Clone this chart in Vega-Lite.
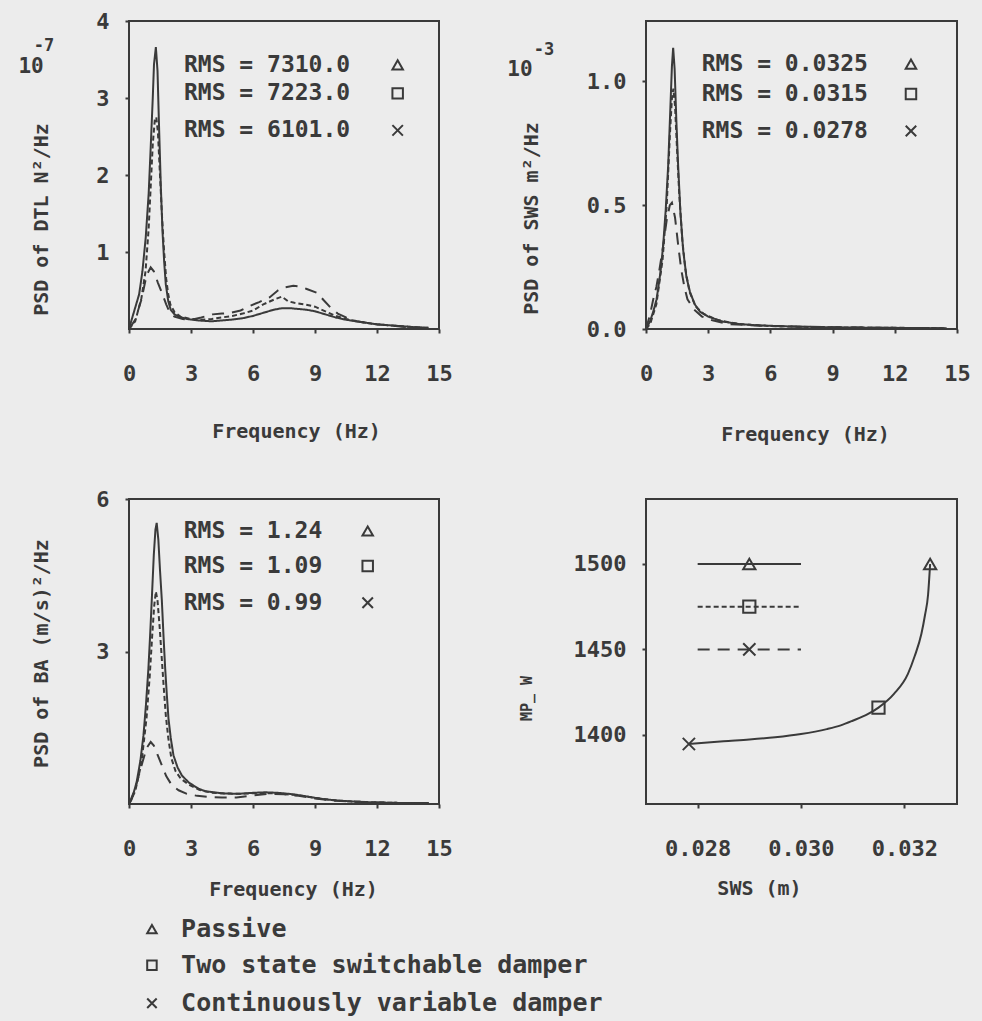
{
"$schema":"https://vega.github.io/schema/vega-lite/v6.json",
"background":"#ececec",
"padding":{"left":17,"top":9,"right":13,"bottom":7},
"bounds":"flush",
"columns":2,
"spacing":{"row":170,"column":207},
"datasets":{
"dtl":[
{"s":"P","f":0,"v":0},{"s":"P","f":0.16,"v":0.15},{"s":"P","f":0.49,"v":0.45},{"s":"P","f":0.65,"v":0.75},{"s":"P","f":0.81,"v":1.19},{"s":"P","f":0.95,"v":1.75},{"s":"P","f":1.05,"v":2.36},{"s":"P","f":1.15,"v":3.0},{"s":"P","f":1.21,"v":3.44},{"s":"P","f":1.3,"v":3.66},{"s":"P","f":1.38,"v":3.35},{"s":"P","f":1.46,"v":2.57},{"s":"P","f":1.54,"v":1.85},{"s":"P","f":1.62,"v":1.27},{"s":"P","f":1.7,"v":0.88},{"s":"P","f":1.78,"v":0.58},{"s":"P","f":1.9,"v":0.36},{"s":"P","f":2.02,"v":0.25},{"s":"P","f":2.2,"v":0.19},{"s":"P","f":2.43,"v":0.16},{"s":"P","f":2.8,"v":0.13},{"s":"P","f":3.4,"v":0.11},{"s":"P","f":4.0,"v":0.1},{"s":"P","f":4.9,"v":0.12},{"s":"P","f":5.5,"v":0.14},{"s":"P","f":6.0,"v":0.17},{"s":"P","f":6.5,"v":0.21},{"s":"P","f":7.0,"v":0.25},{"s":"P","f":7.4,"v":0.27},{"s":"P","f":7.8,"v":0.27},{"s":"P","f":8.2,"v":0.26},{"s":"P","f":8.6,"v":0.25},{"s":"P","f":9.0,"v":0.23},{"s":"P","f":9.5,"v":0.19},{"s":"P","f":10.0,"v":0.15},{"s":"P","f":10.5,"v":0.12},{"s":"P","f":11.0,"v":0.1},{"s":"P","f":11.5,"v":0.08},{"s":"P","f":12.0,"v":0.06},{"s":"P","f":12.5,"v":0.05},{"s":"P","f":13.0,"v":0.04},{"s":"P","f":13.5,"v":0.03},{"s":"P","f":14.0,"v":0.02},{"s":"P","f":14.5,"v":0.015},
{"s":"T","f":0,"v":0},{"s":"T","f":0.3,"v":0.1},{"s":"T","f":0.6,"v":0.4},{"s":"T","f":0.8,"v":0.75},{"s":"T","f":0.95,"v":1.3},{"s":"T","f":1.05,"v":1.85},{"s":"T","f":1.15,"v":2.4},{"s":"T","f":1.25,"v":2.72},{"s":"T","f":1.32,"v":2.75},{"s":"T","f":1.4,"v":2.55},{"s":"T","f":1.5,"v":2.0},{"s":"T","f":1.6,"v":1.45},{"s":"T","f":1.7,"v":1.0},{"s":"T","f":1.8,"v":0.65},{"s":"T","f":1.9,"v":0.45},{"s":"T","f":2.0,"v":0.32},{"s":"T","f":2.2,"v":0.22},{"s":"T","f":2.5,"v":0.16},{"s":"T","f":3.0,"v":0.13},{"s":"T","f":3.5,"v":0.12},{"s":"T","f":4.0,"v":0.13},{"s":"T","f":4.5,"v":0.15},{"s":"T","f":5.0,"v":0.17},{"s":"T","f":5.5,"v":0.2},{"s":"T","f":6.0,"v":0.24},{"s":"T","f":6.5,"v":0.32},{"s":"T","f":7.0,"v":0.38},{"s":"T","f":7.4,"v":0.42},{"s":"T","f":7.7,"v":0.36},{"s":"T","f":8.0,"v":0.34},{"s":"T","f":8.5,"v":0.32},{"s":"T","f":9.0,"v":0.29},{"s":"T","f":9.5,"v":0.23},{"s":"T","f":10.0,"v":0.17},{"s":"T","f":10.5,"v":0.13},{"s":"T","f":11.0,"v":0.1},{"s":"T","f":11.5,"v":0.08},{"s":"T","f":12.0,"v":0.06},{"s":"T","f":12.5,"v":0.05},{"s":"T","f":13.0,"v":0.04},{"s":"T","f":13.5,"v":0.03},{"s":"T","f":14.0,"v":0.02},{"s":"T","f":14.5,"v":0.015},
{"s":"C","f":0,"v":0},{"s":"C","f":0.3,"v":0.12},{"s":"C","f":0.6,"v":0.38},{"s":"C","f":0.85,"v":0.7},{"s":"C","f":1.05,"v":0.8},{"s":"C","f":1.2,"v":0.75},{"s":"C","f":1.4,"v":0.6},{"s":"C","f":1.62,"v":0.45},{"s":"C","f":1.8,"v":0.32},{"s":"C","f":1.95,"v":0.23},{"s":"C","f":2.2,"v":0.16},{"s":"C","f":2.6,"v":0.13},{"s":"C","f":3.0,"v":0.12},{"s":"C","f":3.5,"v":0.15},{"s":"C","f":4.05,"v":0.19},{"s":"C","f":4.5,"v":0.2},{"s":"C","f":4.9,"v":0.21},{"s":"C","f":5.4,"v":0.24},{"s":"C","f":5.85,"v":0.3},{"s":"C","f":6.3,"v":0.35},{"s":"C","f":6.8,"v":0.41},{"s":"C","f":7.2,"v":0.5},{"s":"C","f":7.5,"v":0.54},{"s":"C","f":7.95,"v":0.56},{"s":"C","f":8.3,"v":0.55},{"s":"C","f":8.6,"v":0.52},{"s":"C","f":9.1,"v":0.47},{"s":"C","f":9.4,"v":0.38},{"s":"C","f":9.75,"v":0.28},{"s":"C","f":10.1,"v":0.2},{"s":"C","f":10.5,"v":0.15},{"s":"C","f":11.0,"v":0.1},{"s":"C","f":11.5,"v":0.08},{"s":"C","f":12.0,"v":0.06},{"s":"C","f":12.5,"v":0.05},{"s":"C","f":13.0,"v":0.035},{"s":"C","f":13.5,"v":0.025},{"s":"C","f":14.0,"v":0.02},{"s":"C","f":14.5,"v":0.01}
],
"sws":[
{"s":"P","f":0,"v":0},{"s":"P","f":0.19,"v":0.03},{"s":"P","f":0.35,"v":0.07},{"s":"P","f":0.51,"v":0.12},{"s":"P","f":0.7,"v":0.23},{"s":"P","f":0.83,"v":0.34},{"s":"P","f":0.95,"v":0.48},{"s":"P","f":1.07,"v":0.66},{"s":"P","f":1.17,"v":0.88},{"s":"P","f":1.25,"v":1.06},{"s":"P","f":1.31,"v":1.135},{"s":"P","f":1.38,"v":1.05},{"s":"P","f":1.46,"v":0.85},{"s":"P","f":1.55,"v":0.66},{"s":"P","f":1.66,"v":0.47},{"s":"P","f":1.79,"v":0.32},{"s":"P","f":1.95,"v":0.21},{"s":"P","f":2.12,"v":0.15},{"s":"P","f":2.35,"v":0.1},{"s":"P","f":2.6,"v":0.07},{"s":"P","f":3.0,"v":0.05},{"s":"P","f":3.7,"v":0.03},{"s":"P","f":4.5,"v":0.02},{"s":"P","f":5.3,"v":0.015},{"s":"P","f":7.0,"v":0.01},{"s":"P","f":9.0,"v":0.007},{"s":"P","f":11.0,"v":0.005},{"s":"P","f":13.0,"v":0.004},{"s":"P","f":14.5,"v":0.003},
{"s":"T","f":0,"v":0},{"s":"T","f":0.2,"v":0.02},{"s":"T","f":0.5,"v":0.1},{"s":"T","f":0.8,"v":0.28},{"s":"T","f":1.0,"v":0.5},{"s":"T","f":1.15,"v":0.78},{"s":"T","f":1.25,"v":0.93},{"s":"T","f":1.32,"v":0.97},{"s":"T","f":1.4,"v":0.9},{"s":"T","f":1.5,"v":0.72},{"s":"T","f":1.6,"v":0.55},{"s":"T","f":1.75,"v":0.36},{"s":"T","f":1.9,"v":0.24},{"s":"T","f":2.1,"v":0.15},{"s":"T","f":2.4,"v":0.09},{"s":"T","f":2.8,"v":0.06},{"s":"T","f":3.5,"v":0.035},{"s":"T","f":4.5,"v":0.02},{"s":"T","f":6.0,"v":0.012},{"s":"T","f":8.0,"v":0.008},{"s":"T","f":10.0,"v":0.006},{"s":"T","f":12.0,"v":0.005},{"s":"T","f":14.5,"v":0.003},
{"s":"C","f":0,"v":0},{"s":"C","f":0.2,"v":0.06},{"s":"C","f":0.35,"v":0.12},{"s":"C","f":0.5,"v":0.17},{"s":"C","f":0.65,"v":0.24},{"s":"C","f":0.8,"v":0.32},{"s":"C","f":1.0,"v":0.44},{"s":"C","f":1.15,"v":0.5},{"s":"C","f":1.25,"v":0.51},{"s":"C","f":1.4,"v":0.45},{"s":"C","f":1.55,"v":0.34},{"s":"C","f":1.7,"v":0.24},{"s":"C","f":1.85,"v":0.17},{"s":"C","f":2.0,"v":0.12},{"s":"C","f":2.3,"v":0.08},{"s":"C","f":2.7,"v":0.05},{"s":"C","f":3.2,"v":0.035},{"s":"C","f":4.0,"v":0.02},{"s":"C","f":5.0,"v":0.015},{"s":"C","f":7.0,"v":0.01},{"s":"C","f":9.0,"v":0.007},{"s":"C","f":11.0,"v":0.005},{"s":"C","f":13.0,"v":0.004},{"s":"C","f":14.5,"v":0.003}
],
"ba":[
{"s":"P","f":0,"v":0},{"s":"P","f":0.14,"v":0.1},{"s":"P","f":0.37,"v":0.43},{"s":"P","f":0.55,"v":0.85},{"s":"P","f":0.7,"v":1.35},{"s":"P","f":0.82,"v":1.95},{"s":"P","f":0.94,"v":2.67},{"s":"P","f":1.02,"v":3.3},{"s":"P","f":1.1,"v":4.0},{"s":"P","f":1.2,"v":4.9},{"s":"P","f":1.28,"v":5.4},{"s":"P","f":1.34,"v":5.53},{"s":"P","f":1.42,"v":5.2},{"s":"P","f":1.5,"v":4.6},{"s":"P","f":1.59,"v":4.0},{"s":"P","f":1.67,"v":3.3},{"s":"P","f":1.75,"v":2.67},{"s":"P","f":1.83,"v":2.15},{"s":"P","f":1.91,"v":1.68},{"s":"P","f":2.02,"v":1.3},{"s":"P","f":2.15,"v":0.96},{"s":"P","f":2.35,"v":0.72},{"s":"P","f":2.56,"v":0.56},{"s":"P","f":2.9,"v":0.42},{"s":"P","f":3.37,"v":0.3},{"s":"P","f":3.7,"v":0.25},{"s":"P","f":4.5,"v":0.21},{"s":"P","f":5.3,"v":0.2},{"s":"P","f":6.0,"v":0.22},{"s":"P","f":6.6,"v":0.23},{"s":"P","f":7.2,"v":0.22},{"s":"P","f":7.74,"v":0.2},{"s":"P","f":8.3,"v":0.17},{"s":"P","f":8.87,"v":0.13},{"s":"P","f":9.5,"v":0.09},{"s":"P","f":10.2,"v":0.066},{"s":"P","f":11.0,"v":0.045},{"s":"P","f":12.0,"v":0.03},{"s":"P","f":13.0,"v":0.022},{"s":"P","f":14.0,"v":0.02},{"s":"P","f":14.5,"v":0.02},
{"s":"T","f":0,"v":0},{"s":"T","f":0.3,"v":0.25},{"s":"T","f":0.6,"v":0.8},{"s":"T","f":0.85,"v":1.7},{"s":"T","f":1.0,"v":2.5},{"s":"T","f":1.12,"v":3.3},{"s":"T","f":1.22,"v":3.9},{"s":"T","f":1.3,"v":4.18},{"s":"T","f":1.38,"v":4.0},{"s":"T","f":1.48,"v":3.5},{"s":"T","f":1.58,"v":2.9},{"s":"T","f":1.68,"v":2.3},{"s":"T","f":1.78,"v":1.75},{"s":"T","f":1.9,"v":1.3},{"s":"T","f":2.05,"v":0.9},{"s":"T","f":2.25,"v":0.65},{"s":"T","f":2.5,"v":0.5},{"s":"T","f":2.9,"v":0.38},{"s":"T","f":3.4,"v":0.28},{"s":"T","f":4.0,"v":0.22},{"s":"T","f":5.0,"v":0.2},{"s":"T","f":6.0,"v":0.21},{"s":"T","f":7.0,"v":0.21},{"s":"T","f":8.0,"v":0.18},{"s":"T","f":9.0,"v":0.12},{"s":"T","f":10.0,"v":0.07},{"s":"T","f":11.0,"v":0.045},{"s":"T","f":12.0,"v":0.03},{"s":"T","f":13.0,"v":0.022},{"s":"T","f":14.5,"v":0.02},
{"s":"C","f":0,"v":0},{"s":"C","f":0.3,"v":0.3},{"s":"C","f":0.6,"v":0.75},{"s":"C","f":0.85,"v":1.1},{"s":"C","f":1.05,"v":1.22},{"s":"C","f":1.2,"v":1.15},{"s":"C","f":1.4,"v":0.95},{"s":"C","f":1.59,"v":0.76},{"s":"C","f":1.8,"v":0.55},{"s":"C","f":2.07,"v":0.37},{"s":"C","f":2.4,"v":0.27},{"s":"C","f":2.8,"v":0.2},{"s":"C","f":3.3,"v":0.16},{"s":"C","f":3.8,"v":0.14},{"s":"C","f":4.5,"v":0.13},{"s":"C","f":5.2,"v":0.13},{"s":"C","f":6.0,"v":0.17},{"s":"C","f":6.8,"v":0.2},{"s":"C","f":7.5,"v":0.19},{"s":"C","f":8.2,"v":0.16},{"s":"C","f":9.0,"v":0.11},{"s":"C","f":10.0,"v":0.065},{"s":"C","f":11.0,"v":0.045},{"s":"C","f":12.0,"v":0.03},{"s":"C","f":13.0,"v":0.022},{"s":"C","f":14.5,"v":0.02}
],
"rms1":[{"s":"P","label":"RMS = 7310.0","y":3.43},{"s":"T","label":"RMS = 7223.0","y":3.06},{"s":"C","label":"RMS = 6101.0","y":2.58}],
"rms2":[{"s":"P","label":"RMS = 0.0325","y":1.069},{"s":"T","label":"RMS = 0.0315","y":0.948},{"s":"C","label":"RMS = 0.0278","y":0.799}],
"rms3":[{"s":"P","label":"RMS = 1.24","y":5.37},{"s":"T","label":"RMS = 1.09","y":4.68},{"s":"C","label":"RMS = 0.99","y":3.96}],
"key":[{"s":"P","label":"Passive","y":-2.46},{"s":"T","label":"Two state switchable damper","y":-3.17},{"s":"C","label":"Continuously variable damper","y":-3.92}],
"mpc":[{"x":0.02783,"y":1394.7},{"x":0.0285,"y":1396.3},{"x":0.029,"y":1397.3},{"x":0.0295,"y":1398.6},{"x":0.03,"y":1400.5},{"x":0.0305,"y":1403.4},{"x":0.03077,"y":1405.6},{"x":0.031,"y":1408.3},{"x":0.0313,"y":1412.3},{"x":0.0315,"y":1416},{"x":0.0318,"y":1424},{"x":0.03207,"y":1435.7},{"x":0.0322,"y":1446},{"x":0.03233,"y":1459},{"x":0.0324,"y":1470},{"x":0.03246,"y":1482},{"x":0.0325,"y":1500}],
"mpp":[{"s":"C","x":0.02783,"y":1394.7},{"s":"T","x":0.0315,"y":1416},{"s":"P","x":0.0325,"y":1500}],
"mpl":[{"s":"P","x":0.028,"y":1500},{"s":"P","x":0.03,"y":1500},{"s":"T","x":0.028,"y":1475},{"s":"T","x":0.03,"y":1475},{"s":"C","x":0.028,"y":1450},{"s":"C","x":0.03,"y":1450}],
"mpk":[{"s":"P","x":0.029,"y":1500},{"s":"T","x":0.029,"y":1475},{"s":"C","x":0.029,"y":1450}],
"one":[{"k":1}]
},
"concat":[
{"width":310,"height":308,"layer":[
{"data":{"name":"dtl"},"mark":{"type":"line","strokeWidth":2,"color":"#3a3a3a"},
"encoding":{
"x":{"field":"f","type":"quantitative","scale":{"domain":[0,15],"nice":false},"axis":{"values":[0,3,6,9,12,15],"title":"Frequency (Hz)","titleX":167,"titleY":102}},
"y":{"field":"v","type":"quantitative","scale":{"domain":[0,4],"nice":false},"axis":{"values":[1,2,3,4],"format":"d","title":"PSD of DTL N²/Hz","titleX":-88,"titleY":198}},
"strokeDash":{"field":"s","type":"nominal","scale":{"domain":["P","T","C"],"range":[[1,0],[5,3],[12,8]]},"legend":null}}},
{"data":{"name":"rms1"},"mark":{"type":"text","align":"left","baseline":"middle","fontSize":23,"fontWeight":"bold","font":"DejaVu Sans Mono","color":"#3a3a3a"},
"encoding":{"x":{"datum":2.66,"type":"quantitative"},"y":{"field":"y","type":"quantitative"},"text":{"field":"label"}}},
{"data":{"name":"rms1"},"mark":{"type":"point","filled":false,"opacity":1,"strokeWidth":2,"size":110,"color":"#3a3a3a"},
"encoding":{"x":{"datum":13.0,"type":"quantitative"},"y":{"field":"y","type":"quantitative"},"shape":{"field":"s","type":"nominal","scale":{"domain":["P","T","C"],"range":["triangle-up","square","M-1,-1L1,1M-1,1L1,-1"]},"legend":null}}},
{"data":{"name":"one"},"mark":{"type":"text","text":"10","fontSize":21,"fontWeight":"bold","font":"DejaVu Sans Mono","color":"#3a3a3a","align":"center","baseline":"middle"},
"encoding":{"x":{"datum":-4.74,"type":"quantitative"},"y":{"datum":3.4,"type":"quantitative"}}},
{"data":{"name":"one"},"mark":{"type":"text","text":"-7","fontSize":17,"fontWeight":"bold","font":"DejaVu Sans Mono","color":"#3a3a3a","align":"center","baseline":"middle"},
"encoding":{"x":{"datum":-4.11,"type":"quantitative"},"y":{"datum":3.68,"type":"quantitative"}}}
]},
{"width":311,"height":308,"layer":[
{"data":{"name":"sws"},"mark":{"type":"line","strokeWidth":2,"color":"#3a3a3a"},
"encoding":{
"x":{"field":"f","type":"quantitative","scale":{"domain":[0,15],"nice":false},"axis":{"values":[0,3,6,9,12,15],"title":"Frequency (Hz)","titleX":159,"titleY":105}},
"y":{"field":"v","type":"quantitative","scale":{"domain":[0,1.243],"nice":false,"zero":false},"axis":{"values":[0,0.5,1.0],"format":".1f","title":"PSD of SWS m²/Hz","titleX":-115,"titleY":197}},
"strokeDash":{"field":"s","type":"nominal","scale":{"domain":["P","T","C"],"range":[[1,0],[5,3],[12,8]]},"legend":null}}},
{"data":{"name":"rms2"},"mark":{"type":"text","align":"left","baseline":"middle","fontSize":23,"fontWeight":"bold","font":"DejaVu Sans Mono","color":"#3a3a3a"},
"encoding":{"x":{"datum":2.69,"type":"quantitative"},"y":{"field":"y","type":"quantitative"},"text":{"field":"label"}}},
{"data":{"name":"rms2"},"mark":{"type":"point","filled":false,"opacity":1,"strokeWidth":2,"size":110,"color":"#3a3a3a"},
"encoding":{"x":{"datum":12.78,"type":"quantitative"},"y":{"field":"y","type":"quantitative"},"shape":{"field":"s","type":"nominal","scale":{"domain":["P","T","C"],"range":["triangle-up","square","M-1,-1L1,1M-1,1L1,-1"]},"legend":null}}},
{"data":{"name":"one"},"mark":{"type":"text","text":"10","fontSize":21,"fontWeight":"bold","font":"DejaVu Sans Mono","color":"#3a3a3a","align":"center","baseline":"middle"},
"encoding":{"x":{"datum":-6.08,"type":"quantitative"},"y":{"datum":1.045,"type":"quantitative"}}},
{"data":{"name":"one"},"mark":{"type":"text","text":"-3","fontSize":17,"fontWeight":"bold","font":"DejaVu Sans Mono","color":"#3a3a3a","align":"center","baseline":"middle"},
"encoding":{"x":{"datum":-4.92,"type":"quantitative"},"y":{"datum":1.126,"type":"quantitative"}}}
]},
{"width":310,"height":305,"layer":[
{"data":{"name":"ba"},"mark":{"type":"line","strokeWidth":2,"color":"#3a3a3a"},
"encoding":{
"x":{"field":"f","type":"quantitative","scale":{"domain":[0,15],"nice":false},"axis":{"values":[0,3,6,9,12,15],"title":"Frequency (Hz)","titleX":164,"titleY":85}},
"y":{"field":"v","type":"quantitative","scale":{"domain":[0,6],"nice":false},"axis":{"values":[3,6],"format":"d","title":"PSD of BA (m/s)²/Hz","titleX":-88,"titleY":154}},
"strokeDash":{"field":"s","type":"nominal","scale":{"domain":["P","T","C"],"range":[[1,0],[5,3],[12,8]]},"legend":null}}},
{"data":{"name":"rms3"},"mark":{"type":"text","align":"left","baseline":"middle","fontSize":23,"fontWeight":"bold","font":"DejaVu Sans Mono","color":"#3a3a3a"},
"encoding":{"x":{"datum":2.65,"type":"quantitative"},"y":{"field":"y","type":"quantitative"},"text":{"field":"label"}}},
{"data":{"name":"rms3"},"mark":{"type":"point","filled":false,"opacity":1,"strokeWidth":2,"size":110,"color":"#3a3a3a"},
"encoding":{"x":{"datum":11.55,"type":"quantitative"},"y":{"field":"y","type":"quantitative"},"shape":{"field":"s","type":"nominal","scale":{"domain":["P","T","C"],"range":["triangle-up","square","M-1,-1L1,1M-1,1L1,-1"]},"legend":null}}},
{"data":{"name":"key"},"mark":{"type":"text","align":"left","baseline":"middle","fontSize":25,"fontWeight":"bold","font":"DejaVu Sans Mono","color":"#3a3a3a"},
"encoding":{"x":{"datum":2.52,"type":"quantitative"},"y":{"field":"y","type":"quantitative"},"text":{"field":"label"}}},
{"data":{"name":"key"},"mark":{"type":"point","filled":false,"opacity":1,"strokeWidth":2,"size":90,"color":"#3a3a3a"},
"encoding":{"x":{"datum":1.11,"type":"quantitative"},"y":{"field":"y","type":"quantitative"},"shape":{"field":"s","type":"nominal","scale":{"domain":["P","T","C"],"range":["triangle-up","square","M-1,-1L1,1M-1,1L1,-1"]},"legend":null}}}
]},
{"width":311,"height":305,"layer":[
{"data":{"name":"mpc"},"mark":{"type":"line","strokeWidth":2,"color":"#3a3a3a","interpolate":"monotone"},
"encoding":{
"x":{"field":"x","type":"quantitative","scale":{"domain":[0.027,0.03302],"nice":false,"zero":false},"axis":{"values":[0.028,0.03,0.032],"format":".3f","title":"SWS (m)","titleX":113,"titleY":84}},
"y":{"field":"y","type":"quantitative","scale":{"domain":[1359.6,1538],"nice":false,"zero":false},"axis":{"values":[1400,1450,1500],"format":"d","title":"MP_ W","titleFontSize":15,"titleX":-120,"titleY":199}}}},
{"data":{"name":"mpl"},"mark":{"type":"line","strokeWidth":2,"color":"#3a3a3a"},
"encoding":{"x":{"field":"x","type":"quantitative"},"y":{"field":"y","type":"quantitative"},
"strokeDash":{"field":"s","type":"nominal","scale":{"domain":["P","T","C"],"range":[[1,0],[5,3],[12,8]]},"legend":null}}},
{"data":{"name":"mpk"},"mark":{"type":"point","filled":false,"opacity":1,"strokeWidth":2,"size":150,"color":"#3a3a3a"},
"encoding":{"x":{"field":"x","type":"quantitative"},"y":{"field":"y","type":"quantitative"},"shape":{"field":"s","type":"nominal","scale":{"domain":["P","T","C"],"range":["triangle-up","square","M-1,-1L1,1M-1,1L1,-1"]},"legend":null}}},
{"data":{"name":"mpp"},"mark":{"type":"point","filled":false,"opacity":1,"strokeWidth":2,"size":150,"color":"#3a3a3a"},
"encoding":{"x":{"field":"x","type":"quantitative"},"y":{"field":"y","type":"quantitative"},"shape":{"field":"s","type":"nominal","scale":{"domain":["P","T","C"],"range":["triangle-up","square","M-1,-1L1,1M-1,1L1,-1"]},"legend":null}}}
]}
],
"config":{
"font":"DejaVu Sans Mono",
"view":{"stroke":"#3a3a3a","strokeWidth":2},
"axis":{"domain":false,"grid":false,"tickSize":4,"tickWidth":2,"tickColor":"#3a3a3a","labelFont":"DejaVu Sans Mono","labelFontSize":22,"labelFontWeight":"bold","labelColor":"#3a3a3a","labelOverlap":false,"labelFlush":false,"titleFont":"DejaVu Sans Mono","titleFontSize":20,"titleFontWeight":"bold","titleColor":"#3a3a3a","titleAlign":"center","titleBaseline":"middle"},
"axisX":{"labelPadding":30},
"axisY":{"labelPadding":16,"titleAngle":270}
}
}
